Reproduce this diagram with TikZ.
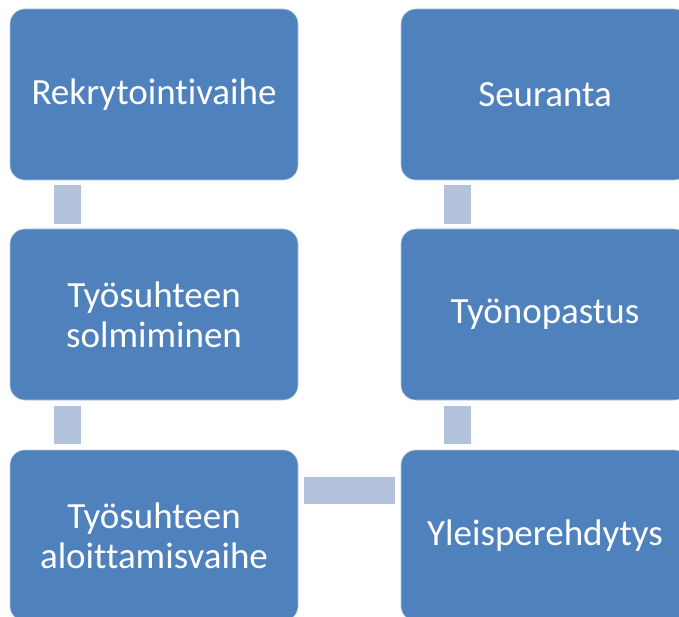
\documentclass[tikz,border=0pt]{standalone}
\usepackage{fontspec}
\setmainfont{Carlito}[Ligatures={NoCommon}]
\definecolor{boxblue}{RGB}{79,129,189}
\definecolor{connblue}{RGB}{179,194,220}
\begin{document}
\begin{tikzpicture}[x=1pt,y=-1pt,
  stepbox/.style={rectangle, rounded corners=15pt, fill=boxblue, draw=white!55!boxblue, line width=0.6pt,
    minimum width=288pt, minimum height=171pt, inner sep=0pt, text=white, align=center,
    font=\fontsize{37}{40}\selectfont},
  conn/.style={draw=connblue, line width=27pt}]
\useasboundingbox (0,0) rectangle (679,617);
\begin{scope}
\clip (0,0) rectangle (679,617);
\node[stepbox] (a) at (154,94.5) {Rekrytointivaihe};
\node[stepbox] (b) at (154,314.5) {Työsuhteen\\solmiminen};
\node[stepbox] (c) at (154,535.5) {Työsuhteen\\aloittamisvaihe};
\node[stepbox] (d) at (545,535.5) {Yleisperehdytys};
\node[stepbox] (e) at (545,314.5) {Työnopastus};
\node[stepbox] (f) at (545,94.5) {Seuranta};
\draw[conn] ([xshift=-86.5pt,yshift=-5pt]a.south) -- ([xshift=-86.5pt,yshift=5pt]b.north);
\draw[conn] ([xshift=-86.5pt,yshift=-6pt]b.south) -- ([xshift=-86.5pt,yshift=6pt]c.north);
\draw[conn] ([xshift=6pt,yshift=45pt]c.east) -- ([xshift=-6pt,yshift=45pt]d.west);
\draw[conn] ([xshift=-87.5pt,yshift=6pt]d.north) -- ([xshift=-87.5pt,yshift=-6pt]e.south);
\draw[conn] ([xshift=-87.5pt,yshift=5pt]e.north) -- ([xshift=-87.5pt,yshift=-5pt]f.south);
\end{scope}
\end{tikzpicture}
\end{document}
